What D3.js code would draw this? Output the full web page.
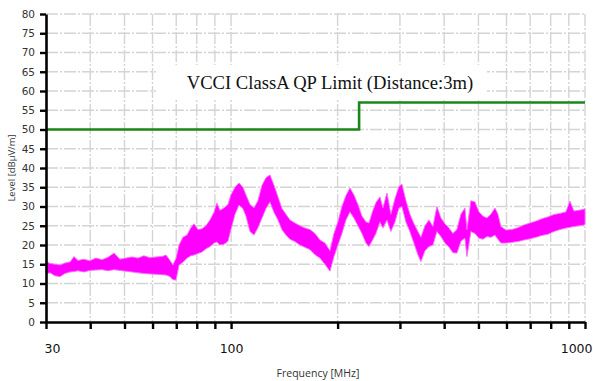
<!DOCTYPE html>
<html>
<head>
<meta charset="utf-8">
<script src="https://cdn.jsdelivr.net/npm/d3@7"></script>
<style>
  body { margin: 0; background: #fff; }
  svg { display: block; }
</style>
</head>
<body>
<svg width="593" height="381"></svg>
<script>
// frequency axis ticks (MHz) and level ticks (dBuV/m)
const freqTicks = [30, 40, 50, 60, 70, 80, 90, 100, 200, 300, 400, 500, 600, 700, 800, 900, 1000];
const freqLabels = [30, 100, 1000];
const levelTicks = d3.range(0, 81, 5);

// VCCI class A QP limit
const limitFreq = [30, 230, 230, 1000];
const limitLevel = [50, 50, 57, 57];

// measured trace, read as a band (min / max level at each frequency)
const scanFreq = [30.0, 30.8, 31.8, 32.9, 33.9, 35.1, 36.0, 36.9, 38.4, 39.9, 41.5, 43.2, 44.9, 46.7, 48.5, 50.5,
  52.5, 54.6, 56.7, 59.0, 61.4, 63.8, 65.5, 67.2, 68.5, 69.9, 71.3, 73.1, 75.1, 77.0, 78.6, 80.6, 82.8, 84.9,
  87.2, 89.5, 91.2, 93.0, 95.5, 98.0, 99.9, 102.6, 105.3, 108.0, 110.2, 113.1, 116.1, 119.1, 122.3, 125.5,
  128.8, 132.2, 135.7, 139.2, 142.9, 146.7, 151.5, 156.5, 161.7, 167.1, 172.6, 178.3, 184.2, 190.3, 195.3,
  200.4, 205.7, 211.1, 216.7, 222.4, 228.3, 234.3, 240.5, 245.2, 251.7, 256.6, 263.4, 268.6, 275.7, 282.9,
  290.4, 298.1, 303.9, 311.9, 320.1, 328.6, 337.2, 343.9, 353.0, 362.3, 371.8, 381.6, 391.7, 402.0, 412.6,
  423.5, 434.6, 446.1, 457.9, 463.9, 476.1, 488.7, 501.5, 514.8, 528.4, 542.3, 556.6, 567.5, 578.7, 597.8,
  621.6, 646.3, 672.1, 698.8, 726.7, 755.6, 785.6, 816.8, 849.4, 883.1, 906.4, 930.2, 961.0, 993.1, 1000];
const scanLo = [12.5, 12.8, 12.0, 11.8, 12.6, 13.0, 13.1, 13.3, 13.0, 13.4, 13.5, 13.6, 13.3, 13.6, 13.4, 13.2,
  13.0, 12.8, 12.6, 12.5, 12.4, 12.3, 12.2, 11.8, 11.0, 10.9, 14.8, 15.5, 16.6, 17.2, 17.4, 17.8, 18.2, 19.0,
  19.6, 20.5, 20.8, 20.0, 20.2, 21.0, 24.0, 28.0, 30.4, 29.5, 27.5, 23.5, 22.6, 24.5, 27.0, 29.5,
  31.2, 28.5, 26.5, 24.0, 22.6, 21.5, 20.9, 20.0, 19.4, 18.8, 17.5, 16.6, 15.0, 13.2, 17.0,
  20.0, 23.0, 26.5, 28.6, 27.0, 25.0, 23.0, 20.5, 19.6, 21.5, 23.0, 26.0, 24.4, 26.5, 23.5,
  26.0, 29.6, 30.0, 26.0, 23.5, 20.5, 17.5, 15.7, 18.5, 19.6, 20.0, 23.5, 22.2, 20.5, 19.5,
  18.0, 17.9, 21.0, 21.8, 17.0, 23.5, 23.0, 21.8, 21.5, 22.2, 22.0, 22.6, 21.5, 20.5, 20.5,
  20.7, 20.9, 21.3, 21.6, 22.0, 22.5, 22.8, 23.5, 24.0, 24.4, 24.6, 24.8, 25.0, 25.2, 25.3];
const scanHi = [15.7, 15.2, 15.0, 14.8, 15.3, 15.6, 17.0, 16.0, 16.3, 15.9, 16.6, 16.2, 16.8, 17.9, 16.3, 16.6,
  16.9, 16.6, 17.2, 16.7, 16.9, 17.0, 17.4, 16.0, 14.8, 16.5, 20.0, 22.0, 22.6, 24.5, 25.5, 24.0, 24.2, 25.0,
  26.5, 28.5, 30.9, 29.0, 29.6, 30.5, 33.0, 35.0, 36.1, 35.0, 33.0, 30.5, 29.6, 31.5, 35.5, 37.5,
  38.2, 35.5, 32.5, 29.5, 28.0, 26.5, 25.7, 25.0, 24.4, 24.0, 23.0, 21.3, 20.5, 18.5, 23.0,
  26.0, 30.0, 32.8, 34.8, 33.0, 30.5, 27.5, 26.0, 25.7, 29.0, 31.0, 32.5, 29.6, 33.5, 28.0,
  32.0, 35.2, 35.8, 31.5, 28.0, 25.5, 23.5, 22.0, 25.0, 26.5, 24.8, 30.0, 27.0, 25.5, 24.4,
  23.0, 24.0, 28.0, 29.6, 24.0, 31.5, 31.2, 28.6, 27.5, 27.0, 28.0, 29.6, 28.0, 24.8, 23.9,
  24.0, 24.5, 25.2, 25.7, 26.2, 26.8, 27.3, 27.9, 28.2, 28.6, 31.4, 28.8, 29.0, 29.3, 29.4];

const svg = d3.select('svg');
const plotLeft = 46, plotRight = 585, plotTop = 14, plotBottom = 322;

const x = d3.scaleLog().domain([30, 1000]).range([plotLeft, plotRight]);
const y = d3.scaleLinear().domain([0, 80]).range([plotBottom, plotTop]);

// grid
const grid = svg.append('g')
    .attr('stroke', '#d4d4d4')
    .attr('stroke-width', 1.4)
    .attr('stroke-dasharray', '12,2,2,2');

grid.selectAll('.vgrid')
    .data(freqTicks.filter(d => d > 30)).enter()
    .append('line')
        .attr('x1', d => x(d)).attr('x2', d => x(d))
        .attr('y1', plotTop).attr('y2', plotBottom);

grid.selectAll('.hgrid')
    .data(levelTicks.filter(d => d > 0)).enter()
    .append('line')
        .attr('x1', plotLeft).attr('x2', plotRight)
        .attr('y1', d => y(d)).attr('y2', d => y(d));

// measured band
const scan = scanFreq.map((f, i) => ({f: f, lo: scanLo[i], hi: scanHi[i]}));

const band = d3.area()
    .x(d => x(d.f))
    .y0(d => y(d.lo))
    .y1(d => y(d.hi));

svg.append('path')
    .attr('d', band(scan))
    .attr('fill', '#ff00ff')
    .attr('stroke', '#ff66ff')
    .attr('stroke-width', 0.9);

// limit line
const limit = limitFreq.map((f, i) => [x(f), y(limitLevel[i])]);
svg.append('path')
    .attr('d', d3.line()(limit))
    .attr('fill', 'none')
    .attr('stroke', '#1b871b')
    .attr('stroke-width', 2.6);

// limit title box
svg.append('rect')
    .attr('x', 156).attr('y', 65)
    .attr('width', 331).attr('height', 35)
    .attr('fill', '#fff');

svg.append('text')
    .attr('x', 330).attr('y', 88.5)
    .attr('text-anchor', 'middle')
    .attr('font-family', '"Liberation Serif", "Times New Roman", serif')
    .attr('font-size', 18.6)
    .attr('fill', '#111')
    .text('VCCI ClassA QP Limit (Distance:3m)');

// axes
const xAxis = svg.append('g')
    .attr('transform', `translate(0,${plotBottom})`)
    .call(d3.axisBottom(x)
        .tickValues(freqTicks)
        .tickSize(7)
        .tickSizeOuter(0)
        .tickFormat(d => freqLabels.includes(d) ? d : ''));

xAxis.select('.domain').attr('stroke-width', 2.6);
xAxis.selectAll('.tick line').attr('stroke-width', 2.4);
xAxis.selectAll('.tick text')
    .attr('y', 22)
    .attr('font-family', '"DejaVu Sans", "Open Sans", sans-serif')
    .attr('font-size', 12.5)
    .attr('fill', '#111')
    .attr('text-anchor', d => d === 30 ? 'start' : d === 1000 ? 'end' : 'middle')
    .attr('dx', d => d === 30 ? -2 : d === 1000 ? 7 : 0);

const yAxis = svg.append('g')
    .attr('transform', `translate(${plotLeft},0)`)
    .call(d3.axisLeft(y)
        .tickValues(levelTicks)
        .tickSize(6)
        .tickPadding(5)
        .tickSizeOuter(0));

yAxis.select('.domain').attr('stroke-width', 2.6);
yAxis.selectAll('.tick line').attr('stroke-width', 2.4);
yAxis.selectAll('.tick text')
    .attr('font-family', '"DejaVu Sans", "Open Sans", sans-serif')
    .attr('font-size', 10.5)
    .attr('fill', '#333');

// axis titles
svg.append('text')
    .attr('transform', 'translate(15,168) rotate(-90)')
    .attr('text-anchor', 'middle')
    .attr('font-family', '"Open Sans", "DejaVu Sans", sans-serif')
    .attr('font-size', 9.5)
    .attr('fill', '#333')
    .text('Level [dBµV/m]');

svg.append('text')
    .attr('x', 318).attr('y', 377)
    .attr('text-anchor', 'middle')
    .attr('font-family', '"Open Sans", "DejaVu Sans", sans-serif')
    .attr('font-size', 10.5)
    .attr('fill', '#333')
    .text('Frequency [MHz]');
</script>
</body>
</html>
